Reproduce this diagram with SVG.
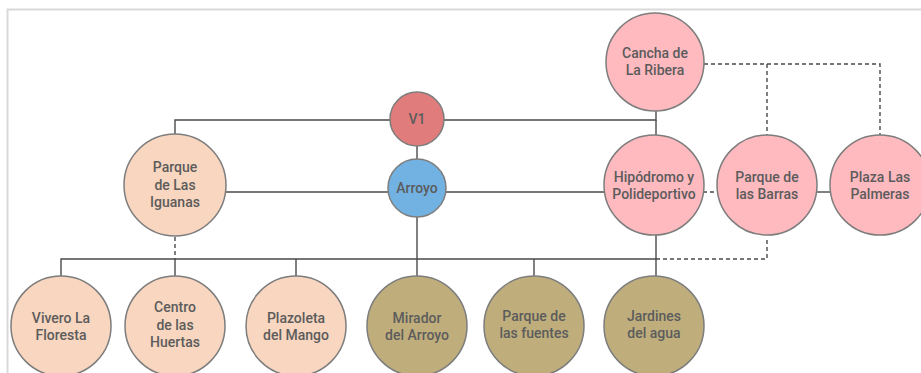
<svg xmlns="http://www.w3.org/2000/svg" width="921" height="373" viewBox="0 0 921 373">
<style>
.n{stroke:#7d7d7d;stroke-width:1.5}
.red{fill:#e07c7c}
.blue{fill:#72b2e2}
.pink{fill:#ffbac0}
.peach{fill:#f8d6bf}
.khaki{fill:#bfae7c}
.t{font-family:Roboto,"Liberation Sans",sans-serif;font-size:14px;font-weight:500;fill:#5c5c5c;text-anchor:middle}
.c{fill:none;stroke:#4a4a4a;stroke-width:1.4}
.d{fill:none;stroke:#4a4a4a;stroke-width:1.4;stroke-dasharray:4 3}
</style>
<rect x="0" y="0" width="921" height="373" fill="#fff"/>
<path d="M7.5 373 V9.5 H921" fill="none" stroke="#d9d9d9" stroke-width="2"/>
<g id="connectors">
<path class="c" d="M175 135 V120 H656 V111"/>
<path class="c" d="M656 120 V135"/>
<path class="c" d="M417 146 V159"/>
<path class="c" d="M225 192 H604"/>
<path class="c" d="M817 192 H831"/>
<path class="d" d="M703 192 H717"/>
<path class="d" d="M704 64 H880 V135"/>
<path class="d" d="M767 64 V135"/>
<path class="d" d="M175 237 V259"/>
<path class="c" d="M417 217 V276"/>
<path class="c" d="M656 235 V276"/>
<path class="c" d="M61 276 V259 H656"/>
<path class="c" d="M175 259 V276"/>
<path class="c" d="M296 259 V276"/>
<path class="c" d="M534 259 V276"/>
<path class="d" d="M656 259 H767 V237"/>
</g>
<g id="cancha"><circle class="n pink" cx="655" cy="62" r="49"/><text class="t" x="655" y="58">Cancha de</text><text class="t" x="655" y="75">La Ribera</text></g>
<g id="v1"><circle class="n red" cx="417" cy="119" r="27"/><text class="t" x="417" y="124">V1</text></g>
<g id="arroyo"><circle class="n blue" cx="417" cy="188" r="29"/><text class="t" x="417" y="193">Arroyo</text></g>
<g id="iguanas"><circle class="n peach" cx="175" cy="185" r="51"/><text class="t" x="175" y="172">Parque</text><text class="t" x="175" y="190">de Las</text><text class="t" x="175" y="207">Iguanas</text></g>
<g id="hipodromo"><circle class="n pink" cx="654" cy="185" r="50"/><text class="t" x="654" y="182">Hipódromo y</text><text class="t" x="654" y="199">Polideportivo</text></g>
<g id="barras"><circle class="n pink" cx="767" cy="185" r="50"/><text class="t" x="767" y="182">Parque de</text><text class="t" x="767" y="199">las Barras</text></g>
<g id="palmeras"><circle class="n pink" cx="880" cy="185" r="50"/><text class="t" x="880" y="182">Plaza Las</text><text class="t" x="880" y="199">Palmeras</text></g>
<g id="vivero"><circle class="n peach" cx="61" cy="326" r="50"/><text class="t" x="61" y="323">Vivero La</text><text class="t" x="61" y="340">Floresta</text></g>
<g id="huertas"><circle class="n peach" cx="175" cy="326" r="50"/><text class="t" x="175" y="312">Centro</text><text class="t" x="175" y="330">de las</text><text class="t" x="175" y="347">Huertas</text></g>
<g id="mango"><circle class="n peach" cx="296" cy="326" r="50"/><text class="t" x="296" y="323">Plazoleta</text><text class="t" x="296" y="340">del Mango</text></g>
<g id="mirador"><circle class="n khaki" cx="417" cy="326" r="50"/><text class="t" x="417" y="323">Mirador</text><text class="t" x="417" y="340">del Arroyo</text></g>
<g id="fuentes"><circle class="n khaki" cx="534" cy="326" r="50"/><text class="t" x="534" y="321">Parque de</text><text class="t" x="534" y="338">las fuentes</text></g>
<g id="jardines"><circle class="n khaki" cx="654" cy="326" r="50"/><text class="t" x="654" y="321">Jardines</text><text class="t" x="654" y="338">del agua</text></g>
</svg>
